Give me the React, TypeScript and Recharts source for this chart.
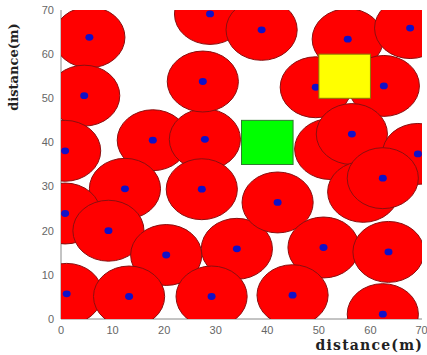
import React from "react";
import { ScatterChart, Scatter, XAxis, YAxis } from "recharts";

// sensor nodes (centre of each coverage circle)
const NODE_X = [
  5.5, 4.5, 0.8, 17.8, 27.9, 27.5, 28.9, 38.9, 55.6, 67.7, 49.4, 62.6, 52.2, 56.4,
  69.2, 12.4, 27.3, 0.8, 9.2, 20.4, 34.1, 1.1, 13.2, 29.2, 42.0, 58.6, 62.4, 50.9,
  63.5, 44.9, 62.4,
];
const NODE_Y = [
  63.8, 50.6, 38.1, 40.5, 40.7, 53.8, 69.1, 65.5, 63.4, 65.9, 52.5, 52.8, 38.5, 41.9,
  37.4, 29.5, 29.4, 23.9, 20.0, 14.5, 15.9, 5.7, 5.1, 5.1, 26.4, 28.8, 31.9, 16.2,
  15.2, 5.4, 1.1,
];
const NODE_RADIUS = 6.9;

// the two square targets
const SQUARE_X = [40, 55];
const SQUARE_Y = [40, 55];
const SQUARE_SIDE = 10;
const SQUARE_FILL = ["#00ff00", "#ffff00"];
const SQUARE_STROKE = ["#2e7d2e", "#8a7a00"];

const TICKS = [0, 10, 20, 30, 40, 50, 60, 70];

const W = 427;
const H = 355;
const MARGIN = { top: 10, right: 5, bottom: 6, left: 21 };
const Y_AXIS_W = 40;
const X_AXIS_H = 30;
const PLOT_W = W - MARGIN.left - MARGIN.right - Y_AXIS_W;
const PLOT_H = H - MARGIN.top - MARGIN.bottom - X_AXIS_H;
const PX_X = PLOT_W / 70;
const PX_Y = PLOT_H / 70;

const nodes = NODE_X.map((x, i) => ({ x, y: NODE_Y[i] }));
const squares = SQUARE_X.map((x, i) => ({ x, y: SQUARE_Y[i], i }));

const NodeShape = (props: any) => {
  const { cx, cy } = props;
  return (
    <g>
      <ellipse
        cx={cx}
        cy={cy}
        rx={NODE_RADIUS * PX_X}
        ry={NODE_RADIUS * PX_Y}
        fill="#ff0000"
        stroke="#8a0f0f"
        strokeWidth={1}
      />
      <ellipse cx={cx} cy={cy} rx={4} ry={3.4} fill="#1010c8" />
    </g>
  );
};

const SquareShape = (props: any) => {
  const { cx, cy, payload } = props;
  const w = SQUARE_SIDE * PX_X;
  const h = SQUARE_SIDE * PX_Y;
  return (
    <rect
      x={cx - w / 2}
      y={cy - h / 2}
      width={w}
      height={h}
      fill={SQUARE_FILL[payload.i]}
      stroke={SQUARE_STROKE[payload.i]}
      strokeWidth={1}
    />
  );
};

const tickStyle = { fill: "#666", fontSize: 11, fontFamily: "Liberation Sans, Arial, sans-serif" };
const labelStyle = {
  fontFamily: "DejaVu Serif, serif",
  fontWeight: 700,
  fontSize: 13,
  fill: "#222",
};

export default function App() {
  return (
    <div style={{ position: "absolute", left: 0, top: 0, background: "#fff" }}>
      <ScatterChart width={W} height={H} margin={MARGIN}>
        <XAxis
          type="number"
          dataKey="x"
          domain={[0, 70]}
          ticks={TICKS}
          allowDataOverflow
          height={X_AXIS_H}
          tick={tickStyle}
          tickLine={false}
          tickSize={5}
          tickMargin={2}
          stroke="#888"
          label={{
            content: () => (
              <text
                x={W - 4}
                y={350}
                textAnchor="end"
                style={{ ...labelStyle, fontSize: 14, letterSpacing: 1.2 }}
              >
                distance(m)
              </text>
            ),
          }}
        />
        <YAxis
          type="number"
          dataKey="y"
          domain={[0, 70]}
          ticks={TICKS}
          allowDataOverflow
          width={Y_AXIS_W}
          tick={tickStyle}
          tickLine={false}
          tickSize={5}
          tickMargin={2}
          stroke="#888"
          label={{
            content: () => (
              <text
                x={0}
                y={0}
                transform="translate(18 67) rotate(-90)"
                textAnchor="middle"
                style={labelStyle}
              >
                distance(m)
              </text>
            ),
          }}
        />
        <Scatter data={nodes} shape={<NodeShape />} isAnimationActive={false} />
        <Scatter data={squares} shape={<SquareShape />} isAnimationActive={false} />
      </ScatterChart>
    </div>
  );
}
